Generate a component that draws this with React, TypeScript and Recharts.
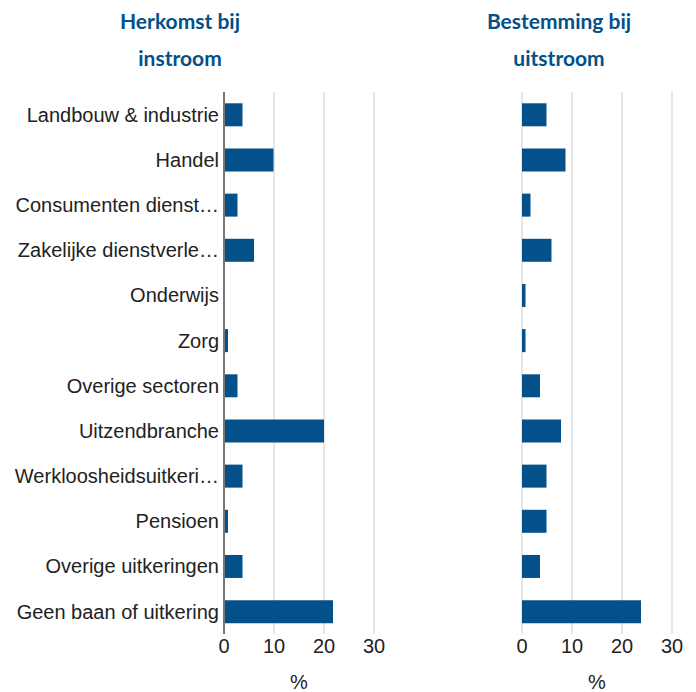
import React from "react";
import { Bar, BarChart, CartesianGrid, XAxis, YAxis } from "recharts";

const categories = [
  "Landbouw & industrie",
  "Handel",
  "Consumenten dienstverlening",
  "Zakelijke dienstverlening",
  "Onderwijs",
  "Zorg",
  "Overige sectoren",
  "Uitzendbranche",
  "Werkloosheidsuitkering",
  "Pensioen",
  "Overige uitkeringen",
  "Geen baan of uitkering",
];

const instroom = [3.7, 9.9, 2.7, 6.0, 0, 0.8, 2.7, 20.0, 3.7, 0.8, 3.7, 21.8];
const uitstroom = [4.9, 8.7, 1.7, 5.9, 0.7, 0.7, 3.6, 7.8, 4.9, 4.9, 3.6, 23.8];

const xTicks = [0, 10, 20, 30];

const leftData = categories.map((name, i) => ({ name, value: instroom[i] }));
const rightData = categories.map((name, i) => ({ name, value: uitstroom[i] }));

const BLUE = "#03508a";
const LABEL_FONT = "20px 'Liberation Sans', Arial, sans-serif";

let ctx: CanvasRenderingContext2D | null = null;
function measure(text: string) {
  if (!ctx) ctx = document.createElement("canvas").getContext("2d");
  if (!ctx) return text.length * 10;
  ctx.font = LABEL_FONT;
  return ctx.measureText(text).width;
}

function truncate(text: string, max: number) {
  if (measure(text) <= max) return text;
  let t = text;
  while (t.length > 1 && measure(t + "…") > max) t = t.slice(0, -1);
  return t + "…";
}

const CategoryTick = (props: any) => {
  const { x, y, payload } = props;
  return (
    <text
      x={x}
      y={y}
      dy="0.355em"
      textAnchor="end"
      fill="#222"
      style={{ font: LABEL_FONT }}
    >
      {truncate(payload.value, 205)}
    </text>
  );
};

const tickStyle = { fontSize: 20, fill: "#222", fontFamily: "'Liberation Sans', Arial, sans-serif" };

function Panel({ data, showLabels, yWidth, marginLeft, width }: any) {
  return (
    <BarChart
      width={width}
      height={692}
      data={data}
      layout="vertical"
      margin={{ top: 92, right: width - marginLeft - yWidth - 150, bottom: 0, left: marginLeft }}
      barCategoryGap="25%"
    >
      <CartesianGrid horizontal={false} stroke="#dddddd" strokeWidth={1.5} />
      <XAxis
        type="number"
        domain={[0, 30]}
        ticks={xTicks}
        axisLine={false}
        tickLine={false}
        tickSize={5}
        tickMargin={0}
        height={58}
        tick={tickStyle}
        label={{ value: "%", position: "insideBottom", offset: 3, style: tickStyle }}
      />
      <YAxis
        type="category"
        dataKey="name"
        width={yWidth}
        axisLine={{ stroke: "#777", strokeWidth: 2 }}
        tickLine={false}
        tickSize={3}
        tickMargin={2}
        tick={showLabels ? <CategoryTick /> : false}
        interval={0}
      />
      <Bar dataKey="value" fill={BLUE} isAnimationActive={false} />
    </BarChart>
  );
}

const titleStyle: React.CSSProperties = {
  position: "absolute",
  width: 300,
  textAlign: "center",
  color: BLUE,
  fontFamily: "Lato, 'Open Sans', sans-serif",
  fontWeight: 700,
  fontSize: 21,
  lineHeight: "37px",
  top: 2,
};

export default function App() {
  return (
    <div style={{ position: "absolute", left: 0, top: 0, width: 696, height: 692, background: "#fff" }}>
      <div style={{ ...titleStyle, left: 180 - 150 }}>
        Herkomst bij
        <br />
        instroom
      </div>
      <div style={{ ...titleStyle, left: 559 - 150 }}>
        Bestemming bij
        <br />
        uitstroom
      </div>
      <div style={{ position: "absolute", left: 0, top: 0 }}>
        <Panel data={leftData} showLabels yWidth={224} marginLeft={0} width={400} />
      </div>
      <div style={{ position: "absolute", left: 400, top: 0 }}>
        <Panel data={rightData} showLabels={false} yWidth={0} marginLeft={122} width={296} />
      </div>
    </div>
  );
}
